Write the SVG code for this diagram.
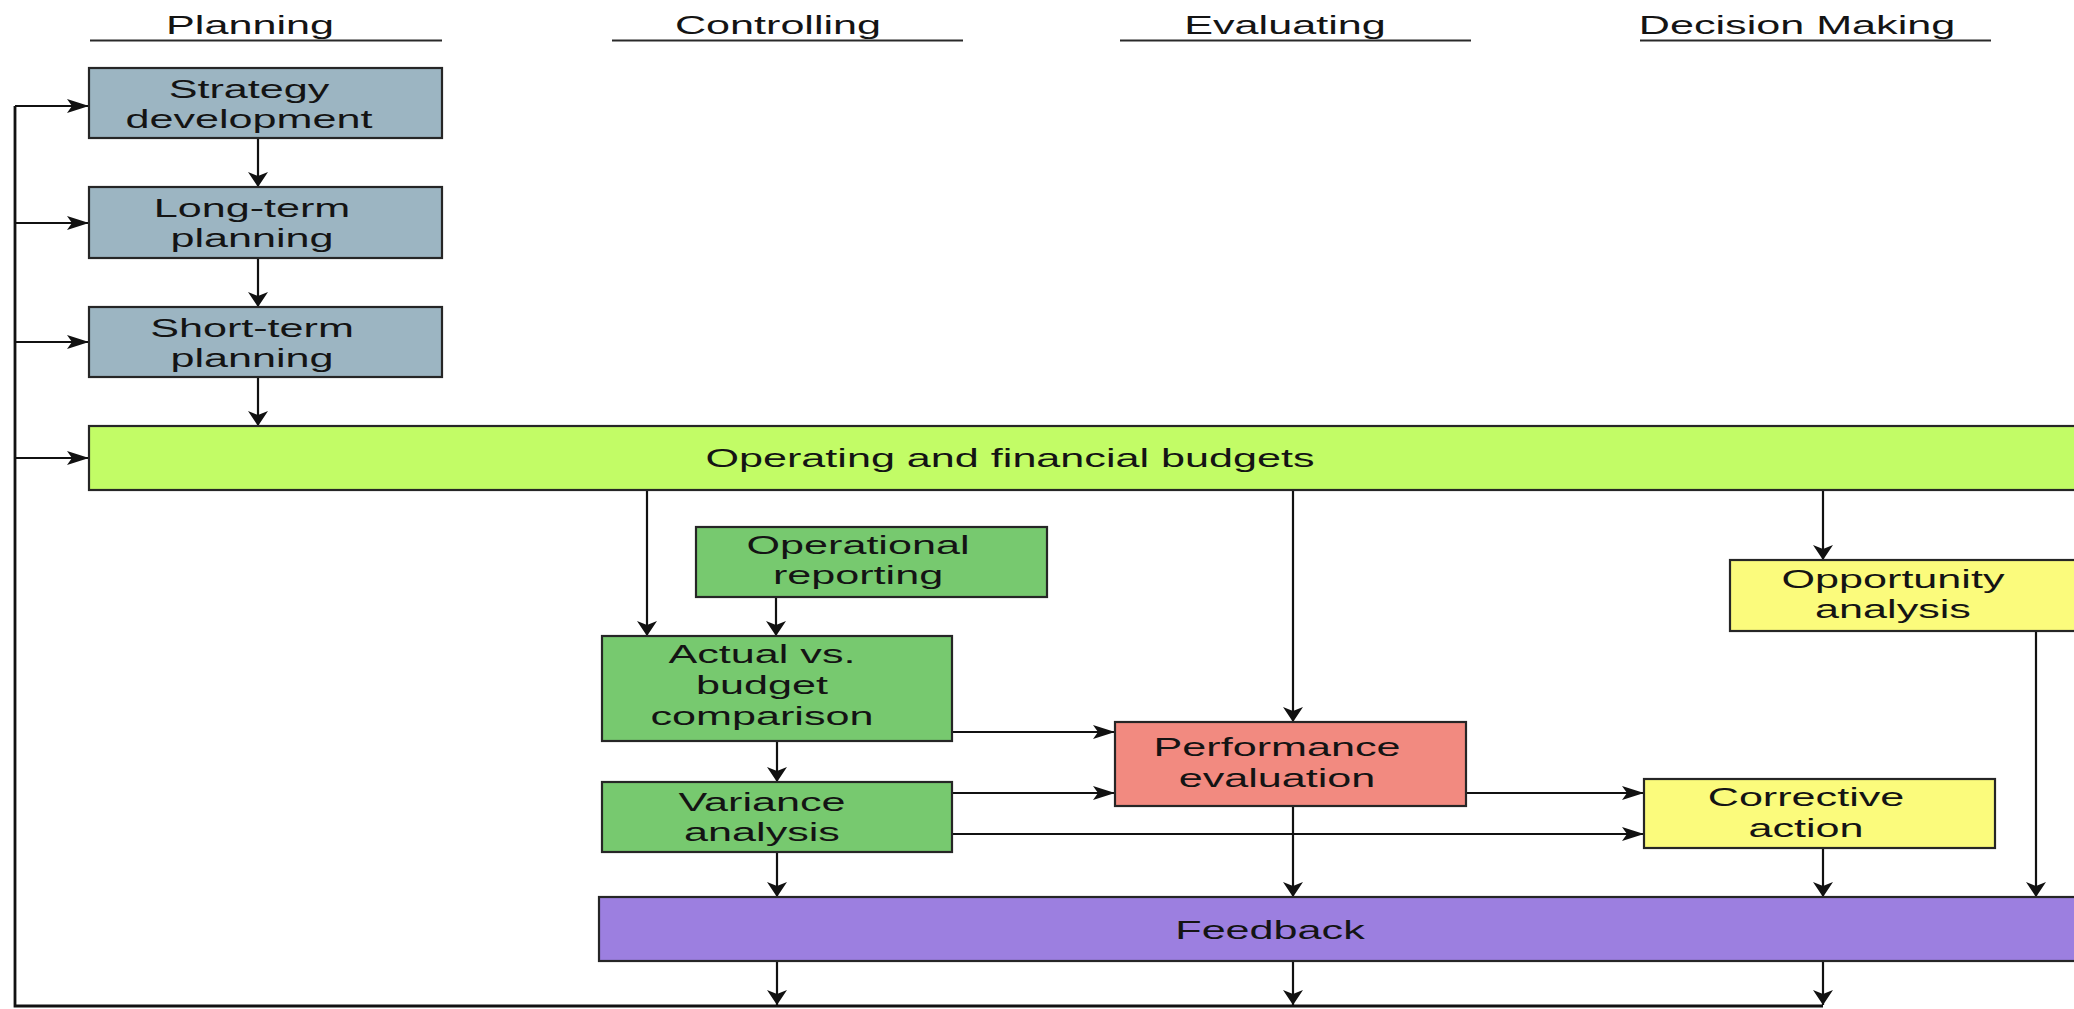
<svg xmlns="http://www.w3.org/2000/svg" width="2074" height="1009" viewBox="0 0 2074 1009">
  <style>
    .t { font-family: "Liberation Sans", Arial, sans-serif; font-size: 26px; fill: #141414; text-anchor: middle; }
    .box { stroke: #262626; stroke-width: 2.2; }
    .plan { fill: #9cb5c2; }
    .budget { fill: #c2fc66; }
    .ctrl { fill: #77c96f; }
    .eval { fill: #f28a80; }
    .dec { fill: #fbfb7c; }
    .fb { fill: #9c7fe0; }
    .rule { stroke: #2a2a2a; stroke-width: 2; }
    .c { fill: none; stroke: #111; stroke-width: 2.2; }
    .c.loop { stroke-width: 2.8; }
    .c.h { marker-end: url(#ah); }
    .c.v { marker-end: url(#av); }
  </style>
  <defs>
    <!-- horizontal arrowhead (long and flat) -->
    <marker id="ah" markerUnits="userSpaceOnUse" markerWidth="24" markerHeight="16" refX="22" refY="7" orient="auto">
      <path d="M0,0 L22,7 L0,14 L5,7 Z" fill="#111"/>
    </marker>
    <!-- vertical arrowhead (short and wide) -->
    <marker id="av" markerUnits="userSpaceOnUse" markerWidth="17" markerHeight="22" refX="15" refY="10" orient="auto">
      <path d="M0,0 L15,10 L0,20 L4,10 Z" fill="#111"/>
    </marker>
  </defs>

  <rect width="2074" height="1009" fill="#ffffff"/>

  <!-- column headings -->
  <g id="headings">
    <text class="t" transform="translate(250,34) scale(1.66,1)">Planning</text>
    <line class="rule" x1="90" y1="40.5" x2="442" y2="40.5"/>
    <text class="t" transform="translate(778,34) scale(1.66,1)">Controlling</text>
    <line class="rule" x1="612" y1="40.5" x2="963" y2="40.5"/>
    <text class="t" transform="translate(1285,34) scale(1.66,1)">Evaluating</text>
    <line class="rule" x1="1120" y1="40.5" x2="1471" y2="40.5"/>
    <text class="t" transform="translate(1797,34) scale(1.66,1)">Decision Making</text>
    <line class="rule" x1="1640" y1="40.5" x2="1991" y2="40.5"/>
  </g>

  <!-- connectors -->
  <g id="connectors">
    <path class="c v" d="M258,138 V187"/>
    <path class="c v" d="M258,258 V307"/>
    <path class="c v" d="M258,377 V426"/>
    <!-- feedback loop back to planning -->
    <path class="c loop" d="M1823,1006 H15 V106"/>
    <path class="c h" d="M15,106 H89"/>
    <path class="c h" d="M15,223 H89"/>
    <path class="c h" d="M15,342 H89"/>
    <path class="c h" d="M15,458 H89"/>
    <!-- budgets downward -->
    <path class="c v" d="M647,490 V636"/>
    <path class="c v" d="M776,597 V636"/>
    <path class="c v" d="M1293,490 V722"/>
    <path class="c v" d="M1823,490 V560"/>
    <!-- controlling to evaluating / decision -->
    <path class="c h" d="M952,732 H1115"/>
    <path class="c v" d="M777,741 V782"/>
    <path class="c h" d="M952,793 H1115"/>
    <path class="c h" d="M952,834 H1644"/>
    <path class="c h" d="M1466,793 H1644"/>
    <!-- into feedback -->
    <path class="c v" d="M777,852 V897"/>
    <path class="c v" d="M1293,806 V897"/>
    <path class="c v" d="M1823,848 V897"/>
    <path class="c v" d="M2036,631 V897"/>
    <!-- out of feedback -->
    <path class="c v" d="M777,961 V1005"/>
    <path class="c v" d="M1293,961 V1005"/>
    <path class="c v" d="M1823,961 V1005"/>
  </g>

  <g id="strategy-development">
    <rect class="box plan" x="89" y="68" width="353" height="70"/>
    <text class="t" transform="translate(249,98) scale(1.66,1)"><tspan x="0">Strategy</tspan><tspan x="0" dy="30">development</tspan></text>
  </g>
  <g id="long-term-planning">
    <rect class="box plan" x="89" y="187" width="353" height="71"/>
    <text class="t" transform="translate(252,217) scale(1.66,1)"><tspan x="0">Long-term</tspan><tspan x="0" dy="30">planning</tspan></text>
  </g>
  <g id="short-term-planning">
    <rect class="box plan" x="89" y="307" width="353" height="70"/>
    <text class="t" transform="translate(252,337) scale(1.66,1)"><tspan x="0">Short-term</tspan><tspan x="0" dy="30">planning</tspan></text>
  </g>
  <g id="operating-financial-budgets">
    <rect class="box budget" x="89" y="426" width="1995" height="64"/>
    <text class="t" transform="translate(1010,467) scale(1.66,1)">Operating and financial budgets</text>
  </g>
  <g id="operational-reporting">
    <rect class="box ctrl" x="696" y="527" width="351" height="70"/>
    <text class="t" transform="translate(858,554) scale(1.66,1)"><tspan x="0">Operational</tspan><tspan x="0" dy="30">reporting</tspan></text>
  </g>
  <g id="actual-vs-budget">
    <rect class="box ctrl" x="602" y="636" width="350" height="105"/>
    <text class="t" transform="translate(762,663) scale(1.66,1)"><tspan x="0">Actual vs.</tspan><tspan x="0" dy="31">budget</tspan><tspan x="0" dy="31">comparison</tspan></text>
  </g>
  <g id="variance-analysis">
    <rect class="box ctrl" x="602" y="782" width="350" height="70"/>
    <text class="t" transform="translate(762,811) scale(1.66,1)"><tspan x="0">Variance</tspan><tspan x="0" dy="30">analysis</tspan></text>
  </g>
  <g id="performance-evaluation">
    <rect class="box eval" x="1115" y="722" width="351" height="84"/>
    <text class="t" transform="translate(1277,756) scale(1.66,1)"><tspan x="0">Performance</tspan><tspan x="0" dy="31">evaluation</tspan></text>
  </g>
  <g id="opportunity-analysis">
    <rect class="box dec" x="1730" y="560" width="354" height="71"/>
    <text class="t" transform="translate(1893,588) scale(1.66,1)"><tspan x="0">Opportunity</tspan><tspan x="0" dy="30">analysis</tspan></text>
  </g>
  <g id="corrective-action">
    <rect class="box dec" x="1644" y="779" width="351" height="69"/>
    <text class="t" transform="translate(1806,806) scale(1.66,1)"><tspan x="0">Corrective</tspan><tspan x="0" dy="31">action</tspan></text>
  </g>
  <g id="feedback">
    <rect class="box fb" x="599" y="897" width="1485" height="64"/>
    <text class="t" transform="translate(1270,939) scale(1.66,1)">Feedback</text>
  </g>
</svg>
